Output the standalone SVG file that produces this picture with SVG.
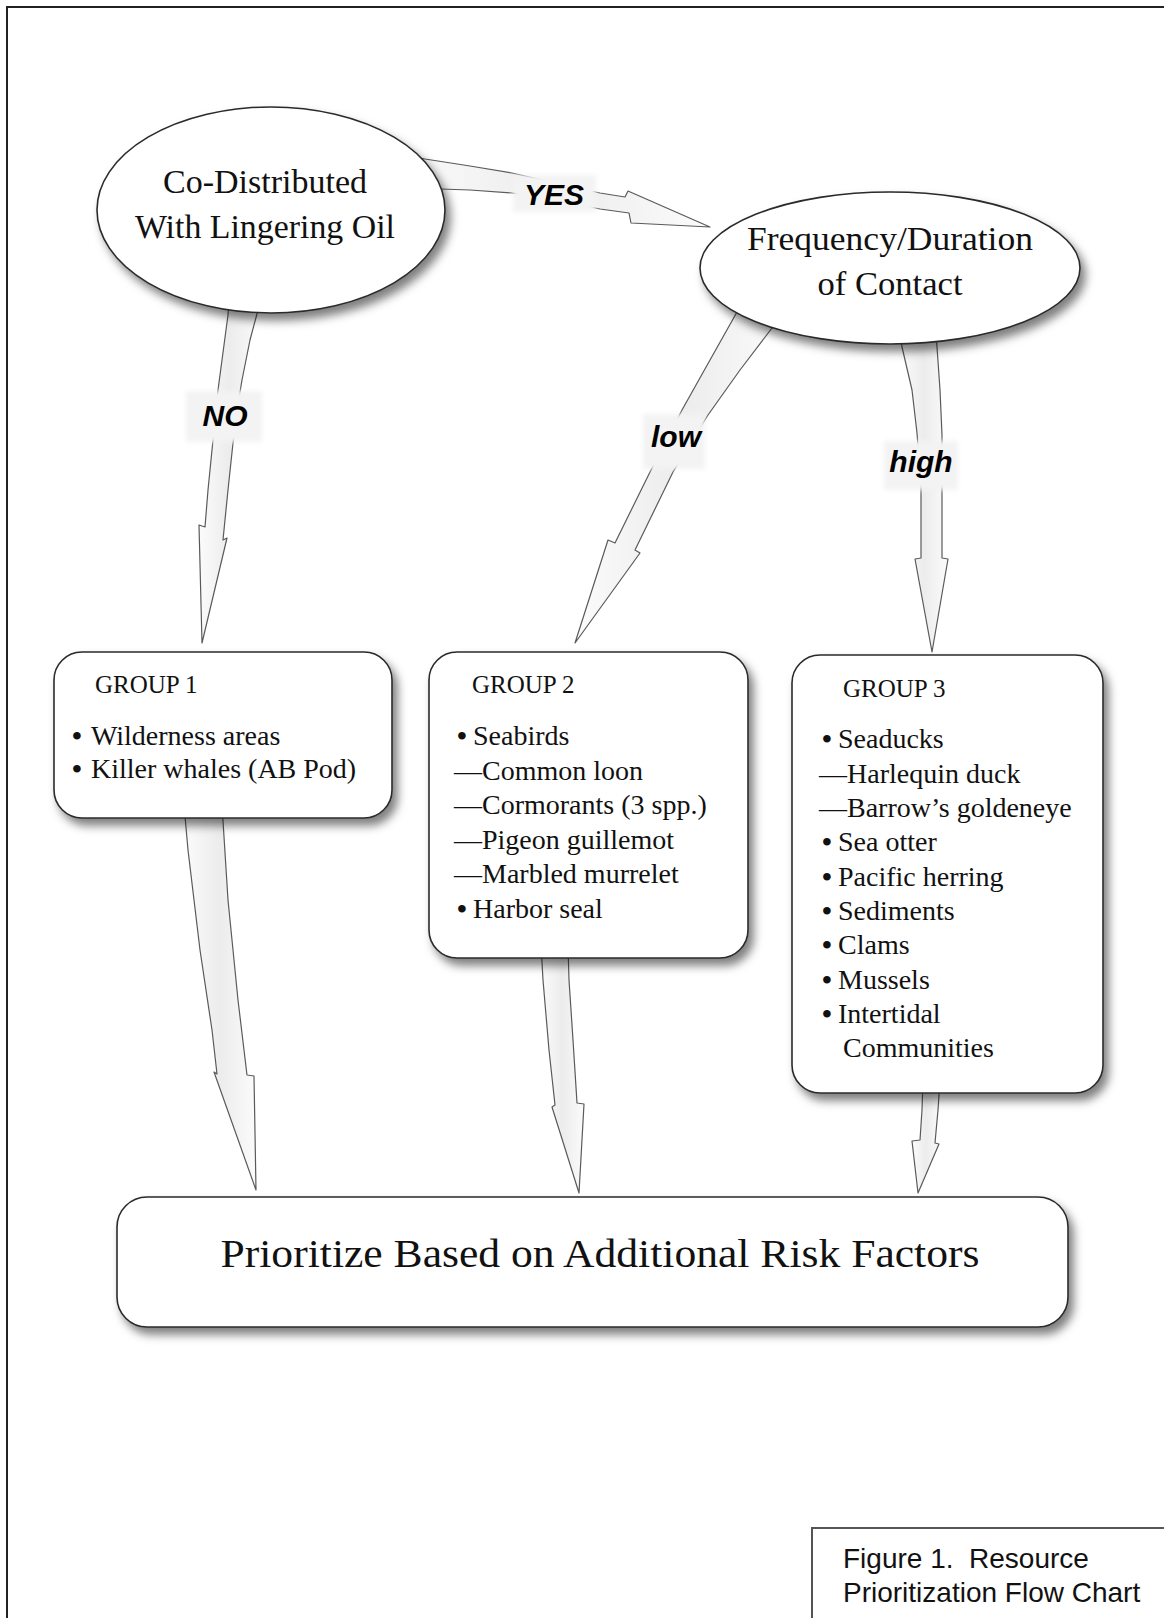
<svg xmlns="http://www.w3.org/2000/svg" width="1164" height="1618" viewBox="0 0 1164 1618">
<defs>
<filter id="shadow" x="-20%" y="-20%" width="150%" height="160%">
<feDropShadow dx="5" dy="7" stdDeviation="5" flood-color="#000" flood-opacity="0.5"/>
</filter>
<filter id="soft" x="-30%" y="-50%" width="160%" height="200%">
<feGaussianBlur stdDeviation="2.5"/>
</filter>
<linearGradient id="shaft" x1="0" y1="0" x2="1" y2="0">
<stop offset="0" stop-color="#fbfbfb"/>
<stop offset="0.5" stop-color="#ececec"/>
<stop offset="1" stop-color="#fbfbfb"/>
</linearGradient>
</defs>
<style>
.frame{fill:none;stroke:#222;stroke-width:2}
.arrow{fill:url(#shaft);stroke:#5a5a5a;stroke-width:1.2;stroke-linejoin:round}
.lblbg{fill:#f3f3f3;filter:url(#soft)}
.lbl{font-family:"Liberation Sans",Arial,sans-serif;font-weight:bold;font-style:italic;font-size:30px;fill:#000;text-anchor:middle}
.node{fill:#fff;stroke:#2a2a2a;stroke-width:1.6;filter:url(#shadow)}
.big{font-family:"Liberation Serif","Times New Roman",serif;font-size:33px;fill:#111;text-anchor:middle}
.hdr{font-family:"Liberation Serif","Times New Roman",serif;font-size:25px;fill:#111}
.item{font-family:"Liberation Serif","Times New Roman",serif;font-size:28px;fill:#111}
.b{font-weight:bold}
.cap{font-family:"Liberation Sans",Arial,sans-serif;font-size:28px;fill:#111;white-space:pre}
</style>
<rect width="1164" height="1618" fill="#fff"/>
<rect class="frame" x="7" y="7" width="1200" height="1700"/>

<g id="connectors">
<path class="arrow" d="M400,154 L425,159 L470,166 L512,173 L556,183 L600,193 L625,197 L628,191 L710,227 L631,223 L629,213 L600,209 L556,200 L512,193 L470,190 L440,189 L400,189 Z"/>
<path class="arrow" d="M229,300 L228,315 L222,360 L218,390 L214,430 L208,490 L205,527 L199,525 L202,643 L227,538 L223,540 L228,490 L233,443 L237,410 L242,380 L250,340 L258,310 L260,300 Z"/>
<path class="arrow" d="M745,300 L737,312 L710,360 L682,410 L650,472 L615,543 L608,540 L575,643 L640,553 L635,550 L673,472 L708,415 L740,370 L772,328 L785,312 Z"/>
<path class="arrow" d="M900,335 L902,347 L912,390 L917,433 L921,490 L921,558 L915,559 L932,652 L948,559 L942,558 L942,490 L942,435 L940,390 L937,347 L936,335 Z"/>
<path class="arrow" d="M184,805 L188,850 L200,950 L212,1030 L217,1074 L214,1072 L256,1190 L254,1076 L247,1075 L238,1000 L228,900 L222,805 Z"/>
<path class="arrow" d="M541,945 L543,980 L549,1050 L555,1105 L552,1107 L579,1193 L584,1104 L577,1103 L573,1040 L569,980 L568,945 Z"/>
<path class="arrow" d="M923,1080 L922,1110 L920,1140 L912,1141 L918,1193 L939,1144 L935,1143 L938,1110 L940,1080 Z"/>

<rect class="lblbg" x="513" y="175" width="83" height="37"/>
<text class="lbl" x="554" y="205">YES</text>
<rect class="lblbg" x="186" y="391" width="76" height="51"/>
<text class="lbl" x="225" y="426">NO</text>
<rect class="lblbg" x="643" y="414" width="62" height="55"/>
<text class="lbl" x="676" y="447">low</text>
<rect class="lblbg" x="884" y="441" width="74" height="49"/>
<text class="lbl" x="921" y="472">high</text>
</g>

<g id="node-codistributed">
<ellipse class="node" cx="271" cy="210" rx="174" ry="103"/>
<text class="big" x="265" y="193" textLength="204" lengthAdjust="spacingAndGlyphs">Co-Distributed</text>
<text class="big" x="265" y="238" textLength="260" lengthAdjust="spacingAndGlyphs">With Lingering Oil</text>
</g>

<g id="node-frequency">
<ellipse class="node" cx="890" cy="268" rx="190" ry="76"/>
<text class="big" x="890" y="250" textLength="286" lengthAdjust="spacingAndGlyphs">Frequency/Duration</text>
<text class="big" x="890" y="295" textLength="145" lengthAdjust="spacingAndGlyphs">of Contact</text>
</g>

<g id="node-group1">
<rect class="node" x="54" y="652" width="338" height="166" rx="28"/>
<text class="hdr" x="95" y="693">GROUP 1</text>
<text class="item" x="72" y="745"><tspan class="b">•</tspan><tspan x="91">Wilderness areas</tspan></text>
<text class="item" x="72" y="778"><tspan class="b">•</tspan><tspan x="91">Killer whales (AB Pod)</tspan></text>
</g>

<g id="node-group2">
<rect class="node" x="429" y="652" width="319" height="306" rx="28"/>
<text class="hdr" x="472" y="693">GROUP 2</text>
<text class="item" x="457" y="745"><tspan class="b">•</tspan><tspan x="473">Seabirds</tspan></text>
<text class="item" x="454" y="779.5">—Common loon</text>
<text class="item" x="454" y="814">—Cormorants (3 spp.)</text>
<text class="item" x="454" y="848.5">—Pigeon guillemot</text>
<text class="item" x="454" y="883">—Marbled murrelet</text>
<text class="item" x="457" y="917.5"><tspan class="b">•</tspan><tspan x="473">Harbor seal</tspan></text>
</g>

<g id="node-group3">
<rect class="node" x="792" y="655" width="311" height="438" rx="28"/>
<text class="hdr" x="843" y="697">GROUP 3</text>
<text class="item" x="822" y="748"><tspan class="b">•</tspan><tspan x="838">Seaducks</tspan></text>
<text class="item" x="819" y="782.5">—Harlequin duck</text>
<text class="item" x="819" y="817">—Barrow’s goldeneye</text>
<text class="item" x="822" y="851"><tspan class="b">•</tspan><tspan x="838">Sea otter</tspan></text>
<text class="item" x="822" y="885.5"><tspan class="b">•</tspan><tspan x="838">Pacific herring</tspan></text>
<text class="item" x="822" y="920"><tspan class="b">•</tspan><tspan x="838">Sediments</tspan></text>
<text class="item" x="822" y="954"><tspan class="b">•</tspan><tspan x="838">Clams</tspan></text>
<text class="item" x="822" y="988.5"><tspan class="b">•</tspan><tspan x="838">Mussels</tspan></text>
<text class="item" x="822" y="1022.5"><tspan class="b">•</tspan><tspan x="838">Intertidal</tspan></text>
<text class="item" x="843" y="1057">Communities</text>
</g>

<g id="node-prioritize">
<rect class="node" x="117" y="1197" width="951" height="130" rx="30"/>
<text class="big" x="600" y="1267" style="font-size:40px" textLength="759" lengthAdjust="spacingAndGlyphs">Prioritize Based on Additional Risk Factors</text>
</g>

<g id="caption">
<rect x="812" y="1528" width="400" height="120" fill="#fff" stroke="#555" stroke-width="2"/>
<text class="cap" x="843" y="1568" xml:space="preserve">Figure 1.  Resource</text>
<text class="cap" x="843" y="1602">Prioritization Flow Chart</text>
</g>
</svg>
